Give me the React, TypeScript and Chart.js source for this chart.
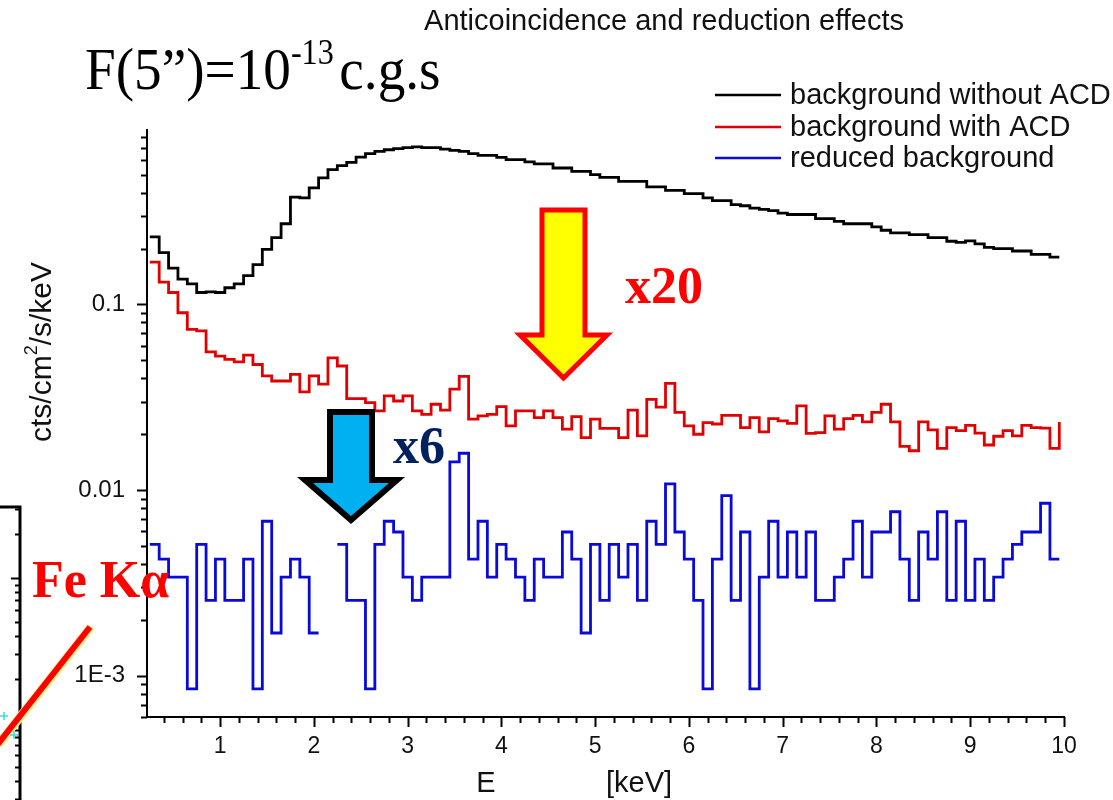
import React, { useEffect, useRef } from 'react';
import { Chart, registerables } from 'chart.js';

Chart.register(...registerables);

// Histogram bins: 0.1 keV wide, first bin starts at 0.25 keV, last ends at 9.95 keV
const binStart = 0.25;
const binWidth = 0.1;
const binEnd = 9.95;

// background without ACD (cts/cm2/s/keV), bins centred 0.3 ... 9.9 keV
const bgWithoutACD = [
  0.231, 0.19, 0.157, 0.137, 0.129, 0.116, 0.117, 0.116, 0.123, 0.129,
  0.143, 0.164, 0.198, 0.229, 0.272, 0.378, 0.375, 0.424, 0.48, 0.532,
  0.559, 0.582, 0.622, 0.649, 0.668, 0.681, 0.69, 0.70, 0.705, 0.70,
  0.70, 0.686, 0.675, 0.668, 0.649, 0.635, 0.635, 0.62, 0.603, 0.603,
  0.586, 0.571, 0.571, 0.543, 0.543, 0.521, 0.521, 0.50, 0.484, 0.484,
  0.46, 0.46, 0.46, 0.43, 0.43, 0.412, 0.412, 0.395, 0.395, 0.375,
  0.362, 0.362, 0.345, 0.34, 0.33, 0.325, 0.32, 0.31, 0.305, 0.305,
  0.305, 0.29, 0.29, 0.28, 0.272, 0.272, 0.272, 0.262, 0.251, 0.243,
  0.243, 0.238, 0.238, 0.229, 0.229, 0.219, 0.216, 0.22, 0.212, 0.203,
  0.2, 0.2, 0.194, 0.194, 0.186, 0.186, 0.18,
];

// background with ACD; the last entry is the closing edge value at 9.95 keV
const bgWithACD = [
  0.169, 0.132, 0.116, 0.0902, 0.0734, 0.072, 0.0555, 0.0527, 0.0506, 0.049,
  0.0533, 0.0475, 0.0412, 0.0387, 0.0387, 0.042, 0.0338, 0.0412, 0.0372, 0.0516,
  0.0466, 0.0311, 0.0311, 0.0296, 0.0267, 0.0322, 0.0302, 0.0322, 0.0267, 0.0256,
  0.029, 0.027, 0.035, 0.041, 0.0241, 0.0251, 0.0256, 0.0282, 0.0222, 0.0267,
  0.0267, 0.0246, 0.0267, 0.0246, 0.0213, 0.0249, 0.0192, 0.0241, 0.0215, 0.0215,
  0.0192, 0.027, 0.0196, 0.0308, 0.028, 0.0376, 0.0262, 0.0222, 0.02, 0.0231,
  0.0227, 0.0253, 0.0253, 0.0217, 0.0246, 0.0206, 0.0243, 0.0236, 0.0229, 0.0284,
  0.0202, 0.0204, 0.0251, 0.0213, 0.0243, 0.0253, 0.0233, 0.0262, 0.029, 0.0233,
  0.0172, 0.0163, 0.0233, 0.0211, 0.0168, 0.0217, 0.0209, 0.0223, 0.0203, 0.0175,
  0.0195, 0.0209, 0.0196, 0.0223, 0.0217, 0.0216, 0.0168, 0.0233,
];

// reduced background (null = empty bin)
const reducedBg = [
  0.0051, 0.00425, 0.0034, 0.0034, 0.00085, 0.0051, 0.00255, 0.00425, 0.00255, 0.00255,
  0.00425, 0.00085, 0.0068, 0.0017, 0.0034, 0.00425, 0.0034, 0.0017, null, null,
  0.0051, 0.00255, 0.00255, 0.00085, 0.0051, 0.0068, 0.00595, 0.0034, 0.00255, 0.0034,
  0.0034, 0.0034, 0.0142, 0.0158, 0.00425, 0.0068, 0.0034, 0.0051, 0.00425, 0.0034,
  0.00255, 0.00425, 0.0034, 0.0034, 0.00595, 0.00425, 0.0017, 0.0051, 0.00255, 0.0051,
  0.0034, 0.0051, 0.00255, 0.0068, 0.0051, 0.0108, 0.00595, 0.00425, 0.00255, 0.00085,
  0.00425, 0.00935, 0.00255, 0.00595, 0.00085, 0.0034, 0.0068, 0.0034, 0.00595, 0.0034,
  0.00595, 0.00255, 0.00255, 0.0034, 0.00425, 0.0068, 0.0034, 0.00595, 0.00595, 0.00765,
  0.00425, 0.00255, 0.00595, 0.00425, 0.00765, 0.00255, 0.0068, 0.00255, 0.00425, 0.00255,
  0.0034, 0.00425, 0.0051, 0.00595, 0.00595, 0.0085, 0.00425,
];

const xTickValues = [1, 2, 3, 4, 5, 6, 7, 8, 9, 10];
const xTickLabels = ['1', '2', '3', '4', '5', '6', '7', '8', '9', '10'];
const yTickValues = [0.1, 0.01, 0.001];
const yTickLabels = ['0.1', '0.01', '1E-3'];
const legendLabels = ['background without ACD', 'background with ACD', 'reduced background'];
const seriesColors = ['#000000', '#e00000', '#0a0ad8'];

const chartTitle = 'Anticoincidence and reduction effects';
const yTitle = ['cts/cm', '2', '/s/keV'];
const xTitleParts = ['E', '[keV]'];

const SANS = "'Liberation Sans', Arial, sans-serif";
const SERIF = "'Liberation Serif', 'Times New Roman', serif";

function toSteps(values: (number | null)[]) {
  const pts: { x: number; y: number | null }[] = [];
  values.forEach((v, i) => {
    const left = Math.min(binStart + i * binWidth, binEnd);
    const right = Math.min(left + binWidth, binEnd);
    if (v === null) {
      pts.push({ x: left + binWidth / 2, y: null });
      return;
    }
    pts.push({ x: left, y: v }, { x: right, y: v });
  });
  return pts;
}

function drawArrow(
  ctx: CanvasRenderingContext2D,
  cx: number, shaftHalf: number, top: number, headY: number, headHalf: number, tipY: number,
  fill: string, stroke: string, lw: number,
) {
  ctx.beginPath();
  ctx.moveTo(cx - shaftHalf, top);
  ctx.lineTo(cx + shaftHalf, top);
  ctx.lineTo(cx + shaftHalf, headY);
  ctx.lineTo(cx + headHalf, headY);
  ctx.lineTo(cx, tipY);
  ctx.lineTo(cx - headHalf, headY);
  ctx.lineTo(cx - shaftHalf, headY);
  ctx.closePath();
  ctx.fillStyle = fill;
  ctx.fill();
  ctx.lineJoin = 'miter';
  ctx.lineWidth = lw;
  ctx.strokeStyle = stroke;
  ctx.stroke();
}

const decorPlugin = {
  id: 'decor',
  afterDatasetsDraw(chart: any) {
    const ctx: CanvasRenderingContext2D = chart.ctx;
    const xs = chart.scales.x;
    const ys = chart.scales.y;
    const area = chart.chartArea;
    ctx.save();

    // ---- tick marks ----
    ctx.strokeStyle = '#000';
    ctx.lineWidth = 2;
    for (let k = 1; k <= 50; k++) {
      const v = k * 0.2;
      if (v < xs.min - 1e-9 || v > xs.max + 1e-9) continue;
      const major = Math.abs(v - Math.round(v)) < 1e-6;
      const px = Math.round(xs.getPixelForValue(v)) + 0.5;
      ctx.beginPath();
      ctx.moveTo(px, area.bottom);
      ctx.lineTo(px, area.bottom + (major ? 10 : 6));
      ctx.stroke();
    }
    for (let e = -4; e <= 0; e++) {
      for (let m = 1; m <= 9; m++) {
        const v = m * Math.pow(10, e);
        if (v < ys.min || v > ys.max) continue;
        const py = Math.round(ys.getPixelForValue(v)) + 0.5;
        ctx.beginPath();
        ctx.moveTo(area.left, py);
        ctx.lineTo(area.left - (m === 1 ? 10 : 6), py);
        ctx.stroke();
      }
    }

    // ---- title ----
    ctx.fillStyle = '#111';
    ctx.font = `29px ${SANS}`;
    ctx.textAlign = 'center';
    ctx.textBaseline = 'middle';
    ctx.fillText(chartTitle, 664, 22);

    // ---- axis titles ----
    ctx.font = `29px ${SANS}`;
    ctx.textAlign = 'center';
    ctx.textBaseline = 'middle';
    ctx.fillText(xTitleParts[0], 486, 784);
    ctx.fillText(xTitleParts[1], 639, 784);

    ctx.save();
    ctx.translate(41, 352);
    ctx.rotate(-Math.PI / 2);
    ctx.textBaseline = 'alphabetic';
    ctx.textAlign = 'left';
    ctx.font = `30px ${SANS}`;
    const w0 = ctx.measureText(yTitle[0]).width;
    ctx.font = `18px ${SANS}`;
    const w1 = ctx.measureText(yTitle[1]).width;
    ctx.font = `30px ${SANS}`;
    const w2 = ctx.measureText(yTitle[2]).width;
    const total = w0 + w1 + w2;
    let sx = -total / 2;
    ctx.fillText(yTitle[0], sx, 10);
    sx += w0;
    ctx.font = `18px ${SANS}`;
    ctx.fillText(yTitle[1], sx, -4);
    sx += w1;
    ctx.font = `30px ${SANS}`;
    ctx.fillText(yTitle[2], sx, 10);
    ctx.restore();

    // ---- legend ----
    ctx.font = `29px ${SANS}`;
    ctx.textAlign = 'left';
    ctx.textBaseline = 'middle';
    const legY = [95, 127, 158];
    legendLabels.forEach((lab, i) => {
      ctx.strokeStyle = seriesColors[i];
      ctx.lineWidth = 2.5;
      ctx.beginPath();
      ctx.moveTo(715, legY[i]);
      ctx.lineTo(781, legY[i]);
      ctx.stroke();
      ctx.fillStyle = '#111';
      ctx.fillText(lab, 790, legY[i] + 1);
    });

    // ---- F(5")=10^-13 c.g.s ----
    ctx.save();
    ctx.translate(85, 0);
    ctx.scale(0.92, 1);
    ctx.fillStyle = '#000';
    ctx.textBaseline = 'alphabetic';
    ctx.textAlign = 'left';
    ctx.font = `60px ${SERIF}`;
    let fx = 0;
    const part1 = 'F(5\u201D)=10';
    ctx.fillText(part1, fx, 89);
    fx += ctx.measureText(part1).width;
    ctx.font = `35px ${SERIF}`;
    ctx.fillText('-13', fx, 64);
    fx += ctx.measureText('-13').width + 6;
    ctx.font = `60px ${SERIF}`;
    ctx.fillText('c.g.s', fx, 89);
    ctx.restore();

    // ---- arrows ----
    drawArrow(ctx, 563.5, 21.5, 210, 335, 43.5, 378, '#ffff00', '#ff0000', 5);
    drawArrow(ctx, 351, 21, 412, 480, 46, 520, '#00b0f0', '#000000', 6);

    ctx.font = `bold 52px ${SERIF}`;
    ctx.textAlign = 'left';
    ctx.textBaseline = 'alphabetic';
    ctx.fillStyle = '#ff0000';
    ctx.fillText('x20', 625, 303);
    ctx.fillStyle = '#002060';
    ctx.fillText('x6', 393, 463);

    // ---- fragment of neighbouring panel (left edge) ----
    ctx.strokeStyle = '#000';
    ctx.lineWidth = 3;
    ctx.beginPath();
    ctx.moveTo(0, 507);
    ctx.lineTo(20, 507);
    ctx.lineTo(20, 800);
    ctx.stroke();
    ctx.lineWidth = 2;
    const decade = 145;
    const majorY = 578;
    for (let d = -1; d <= 2; d++) {
      for (let m = 1; m <= 9; m++) {
        const py = majorY + d * decade - Math.log10(m) * decade;
        if (py < 508 || py > 800) continue;
        ctx.beginPath();
        ctx.moveTo(20, Math.round(py) + 0.5);
        ctx.lineTo(20 - (m === 1 ? 9 : 5), Math.round(py) + 0.5);
        ctx.stroke();
      }
    }
    ctx.strokeStyle = '#ffee88';
    ctx.lineWidth = 9;
    ctx.beginPath();
    ctx.moveTo(-2, 745);
    ctx.lineTo(91, 627);
    ctx.stroke();
    ctx.strokeStyle = '#ff0000';
    ctx.lineWidth = 6;
    ctx.beginPath();
    ctx.moveTo(-2, 744);
    ctx.lineTo(90, 627);
    ctx.stroke();
    ctx.strokeStyle = '#33dddd';
    ctx.lineWidth = 1.5;
    ctx.beginPath();
    ctx.moveTo(0, 716); ctx.lineTo(8, 716);
    ctx.moveTo(4, 712); ctx.lineTo(4, 720);
    ctx.moveTo(10, 735); ctx.lineTo(18, 735);
    ctx.moveTo(14, 731); ctx.lineTo(14, 739);
    ctx.stroke();

    ctx.font = `bold 52px ${SERIF}`;
    ctx.fillStyle = '#ff0000';
    ctx.fillText('Fe K\u03B1', 32, 597);

    ctx.restore();
  },
};

export default function App() {
  const ref = useRef<HTMLCanvasElement | null>(null);

  useEffect(() => {
    document.body.style.margin = '0';
    const canvas = ref.current;
    if (!canvas) return;
    const datasets = [bgWithoutACD, bgWithACD, reducedBg].map((vals, i) => ({
      label: legendLabels[i],
      data: toSteps(vals as (number | null)[]),
      borderColor: seriesColors[i],
      backgroundColor: seriesColors[i],
      borderWidth: 2.8,
      pointRadius: 0,
      tension: 0,
      spanGaps: false,
      fill: false,
    }));

    const chart = new Chart(canvas, {
      type: 'line',
      data: { datasets },
      options: {
        responsive: false,
        devicePixelRatio: 1,
        animation: false,
        layout: { padding: { top: 130, right: 49, left: 0, bottom: 0 } },
        plugins: {
          legend: { display: false },
          title: { display: false },
          tooltip: { enabled: false },
        },
        scales: {
          x: {
            type: 'linear',
            min: 0.22,
            max: 10,
            grid: { display: false, drawTicks: false },
            border: { display: true, color: '#000', width: 2 },
            afterBuildTicks: (scale: any) => {
              scale.ticks = xTickValues.map((v) => ({ value: v }));
            },
            afterFit: (scale: any) => {
              scale.height = 83;
            },
            ticks: {
              autoSkip: false,
              maxRotation: 0,
              padding: 16,
              color: '#111',
              font: { family: SANS, size: 23 },
              callback: (_v: any, i: number) => xTickLabels[i],
            },
          },
          y: {
            type: 'logarithmic',
            min: 0.0006,
            max: 0.87,
            grid: { display: false, drawTicks: false },
            border: { display: true, color: '#000', width: 2 },
            afterBuildTicks: (scale: any) => {
              scale.ticks = yTickValues.map((v) => ({ value: v }));
            },
            afterFit: (scale: any) => {
              scale.width = 147;
            },
            ticks: {
              autoSkip: false,
              padding: 22,
              color: '#111',
              font: { family: SANS, size: 24 },
              callback: (_v: any, i: number) => yTickLabels[i],
            },
          },
        },
      },
      plugins: [decorPlugin],
    } as any);

    return () => chart.destroy();
  }, []);

  return (
    <div style={{ width: 1113, height: 800, position: 'relative', background: '#fff' }}>
      <canvas ref={ref} width={1113} height={800} style={{ display: 'block' }} />
    </div>
  );
}
